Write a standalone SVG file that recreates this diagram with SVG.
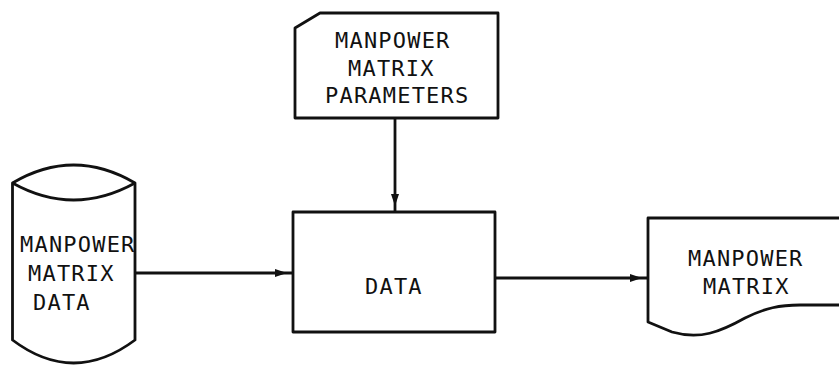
<svg xmlns="http://www.w3.org/2000/svg" width="839" height="366" viewBox="0 0 839 366">
<style>
.s{fill:#fff;stroke:#111;stroke-width:2.8;stroke-linejoin:round}
.c{fill:none;stroke:#111;stroke-width:2.8}
.t{font-family:"DejaVu Sans Mono","Liberation Mono",monospace;font-size:22px;letter-spacing:1.2px;fill:#111}
</style>
<defs>
<marker id="ah" markerUnits="userSpaceOnUse" markerWidth="30" markerHeight="10" viewBox="0 0 30 10" refX="18" refY="5" orient="auto">
<path d="M0,1 L12,5 L0,9 Z" fill="#111"/>
</marker>
</defs>
<rect width="839" height="366" fill="#fff"/>
<g id="connectors">
<line class="c" x1="135" y1="273" x2="293" y2="273" marker-end="url(#ah)"/>
<line class="c" x1="395" y1="118" x2="395" y2="212" marker-end="url(#ah)"/>
<line class="c" x1="495" y1="278" x2="648" y2="278" marker-end="url(#ah)"/>
</g>
<g id="cylinder">
<path class="s" d="M12.5,183 Q73.5,147 135,183 L135,340 Q73.5,386 12.5,340 Z"/>
<path class="c" d="M12.5,183 Q73.5,217 135,183"/>
<text class="t" x="20" y="252">MANPOWER</text>
<text class="t" x="28" y="281">MATRIX</text>
<text class="t" x="33" y="310">DATA</text>
</g>
<g id="parameters">
<path class="s" d="M320,13 L498,13 L498,118 L295,118 L295,28 Z"/>
<text class="t" x="335" y="48">MANPOWER</text>
<text class="t" x="348" y="76">MATRIX</text>
<text class="t" x="325" y="103">PARAMETERS</text>
</g>
<g id="data">
<rect class="s" x="293" y="212" width="202" height="120"/>
<text class="t" x="365" y="294">DATA</text>
</g>
<g id="document">
<path class="s" d="M841,218 L648,218 L648,322 L672,332 C700,340 720,332 745,318 C765,308 780,305 800,305 L841,305"/>
<text class="t" x="688" y="266">MANPOWER</text>
<text class="t" x="703" y="294">MATRIX</text>
</g>
</svg>
